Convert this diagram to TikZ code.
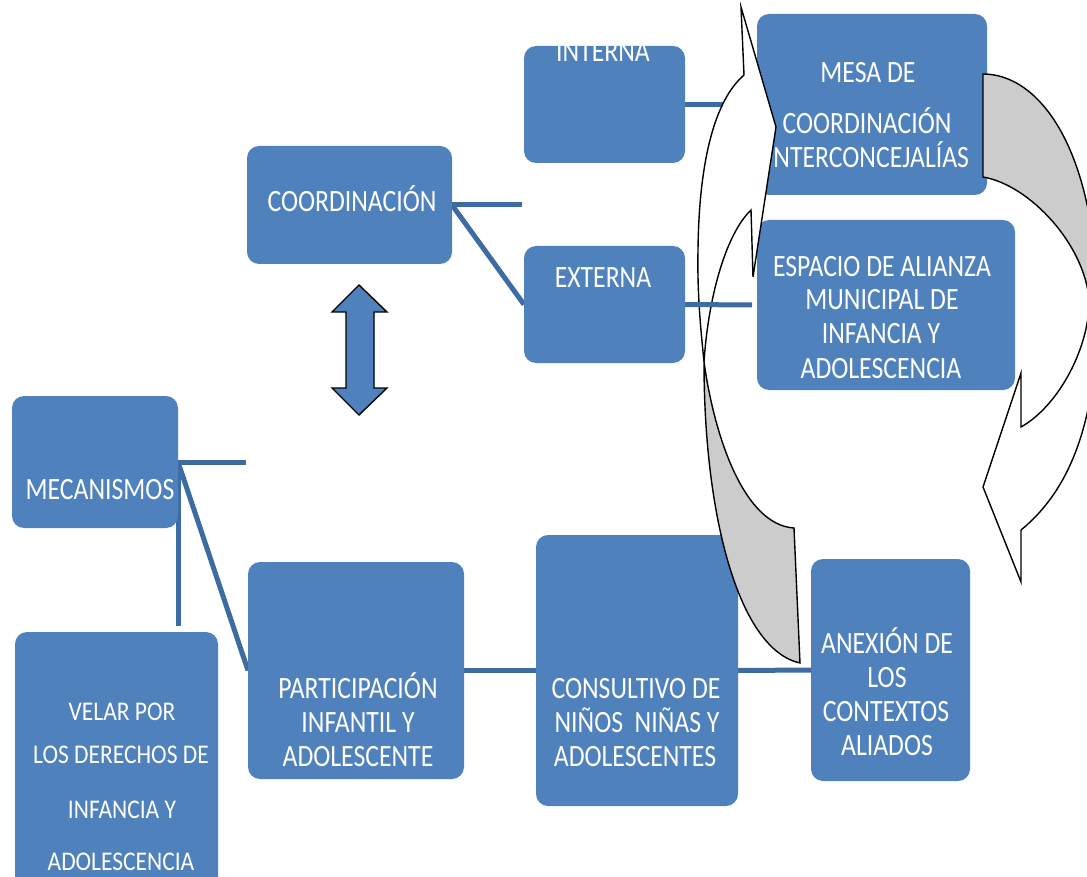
\documentclass[tikz,border=0pt]{standalone}
\usepackage{fontspec}
\usetikzlibrary{backgrounds}
\newfontfamily\boxfont[FakeStretch=0.83]{Carlito}
\newfontfamily\boxfontb[FakeStretch=0.87]{Carlito}
\definecolor{boxblue}{HTML}{4F81BD}
\definecolor{lineblue}{HTML}{3D6CA3}
\definecolor{arrowgray}{HTML}{CCCCCC}
\tikzset{
  box/.style={fill=boxblue, rounded corners=12pt, anchor=north west, inner sep=0pt, outer sep=0pt},
  txt/.style={text=white, font=\boxfont\fontsize{31}{34}\selectfont, anchor=base, inner sep=0pt},
  txts/.style={txt, font=\boxfontb\fontsize{27}{30}\selectfont},
  conn/.style={draw=lineblue, line width=5pt},
  outl/.style={draw=black, line width=1.4pt, line join=miter},
}
\begin{document}
\begin{tikzpicture}[x=1pt,y=-1pt]
\useasboundingbox (0,0) rectangle (1087,877);
\clip (0,0) rectangle (1087,877);
% boxes
\node[box, minimum width=161pt, minimum height=117pt] (interna) at (524,46) {};
\node[box, minimum width=205pt, minimum height=118pt] (coord) at (247,146) {};
\node[box, minimum width=161pt, minimum height=117pt] (externa) at (524,246) {};
\node[box, minimum width=230pt, minimum height=181pt] (mesa) at (757,14) {};
\node[box, minimum width=258pt, minimum height=170pt] (espacio) at (757,220) {};
\node[box, minimum width=166pt, minimum height=132pt] (mecan) at (12,396) {};
\node[box, minimum width=203pt, minimum height=270pt] (velar) at (15,632) {};
\node[box, minimum width=216pt, minimum height=217pt] (partic) at (248,562) {};
\node[box, minimum width=202pt, minimum height=271pt] (consult) at (536,535) {};
\node[box, minimum width=159pt, minimum height=222pt] (anexion) at (811,559) {};
% free ends
\coordinate (cfree) at (522,205);
\coordinate (mfree) at (246,462);
\coordinate (vend) at (178,626);
\coordinate (efree) at (752,305);
% connectors behind boxes
\begin{pgfonlayer}{background}
\draw[conn] (coord.east) -- (cfree);
\draw[conn] (coord.east) -- (externa.west);
\draw[conn] (interna.east) -- (mesa.west);
\draw[conn] (mecan.east) -- (mfree);
\draw[conn] (mecan.east) -- (partic.west);
\draw[conn] (mecan.east) -- (vend);
\draw[conn] (partic.east) -- (consult.west);
\draw[conn] (consult.east) -- (anexion.west);
\end{pgfonlayer}
% texts
\node[txt] (tint) at (603,62) {INTERNA};
\node[txt] (tcoord) at (352,212) {COORDINACIÓN};
\node[txt] (text) at (603,288) {EXTERNA};
\node[txt] (tmesa1) at (868,83) {MESA DE};
\node[txt] (tmesa2) at (867,134) {COORDINACIÓN};
\node[txt] (tmesa3) at (868,168) {INTERCONCEJALÍAS};
\node[txt] (tesp1) at (882,277) {ESPACIO DE ALIANZA};
\node[txt] (tesp2) at (882,310) {MUNICIPAL DE};
\node[txt] (tesp3) at (881,343) {INFANCIA Y};
\node[txt] (tesp4) at (881,378) {ADOLESCENCIA};
\node[txt] (tmec) at (100,499) {MECANISMOS};
\node[txts] (tvel1) at (122,720) {VELAR POR};
\node[txts] (tvel2) at (121,763) {LOS DERECHOS DE};
\node[txts] (tvel3) at (122,818) {INFANCIA Y};
\node[txts] (tvel4) at (121,870) {ADOLESCENCIA};
\node[txt] (tpar1) at (358,698) {PARTICIPACIÓN};
\node[txt] (tpar2) at (358,732) {INFANTIL Y};
\node[txt] (tpar3) at (358,766) {ADOLESCENTE};
\node[txt] (tcon1) at (636,698) {CONSULTIVO DE};
\node[txt] (tcon2) at (637,732) {NIÑOS\ \ NIÑAS Y};
\node[txt] (tcon3) at (635,766) {ADOLESCENTES};
\node[txt] (tanx1) at (887,653) {ANEXIÓN DE};
\node[txt] (tanx2) at (887,687) {LOS};
\node[txt] (tanx3) at (886,721) {CONTEXTOS};
\node[txt] (tanx4) at (887,755) {ALIADOS};
% double-headed arrow
\path[outl, fill=boxblue] (359,285) -- (387,312) -- (374,312) -- (374,388) -- (387,388)
  -- (359,415) -- (332,388) -- (346,388) -- (346,312) -- (332,312) -- cycle;
% left curved arrow (upwards)
\path[outl, fill=white] (704,362) .. controls (702,340) and (697,300) .. (698,250)
  .. controls (699,160) and (715,100) .. (744,75) -- (741,7) -- (776,127) -- (753,277)
  -- (751,210) .. controls (725,235) and (708,300) .. (704,362) -- cycle;
\path[outl, fill=arrowgray] (704,362) .. controls (704,520) and (740,650) .. (800,663)
  -- (794,528) .. controls (745,525) and (715,440) .. (704,362) -- cycle;
% right curved arrow (downwards)
\path[fill=arrowgray] (983,74) .. controls (1040,74) and (1095,150) .. (1097,300)
  -- (1089,300) .. controls (1085,245) and (1030,185) .. (983,177) -- cycle;
\path[fill=white] (1097,300) .. controls (1099,420) and (1070,490) .. (1021,530)
  -- (1021,582) -- (983,487) -- (1021,373) -- (1021,427)
  .. controls (1060,405) and (1090,345) .. (1089,300) -- cycle;
\draw[outl] (983,74) .. controls (1040,74) and (1095,150) .. (1097,300)
  .. controls (1099,420) and (1070,490) .. (1021,530)
  -- (1021,582) -- (983,487) -- (1021,373) -- (1021,427)
  .. controls (1060,405) and (1090,345) .. (1089,300)
  .. controls (1085,245) and (1030,185) .. (983,177) -- cycle;
% connector drawn over the arrow
\draw[conn] (externa.east) -- (efree);
\end{tikzpicture}
\end{document}
